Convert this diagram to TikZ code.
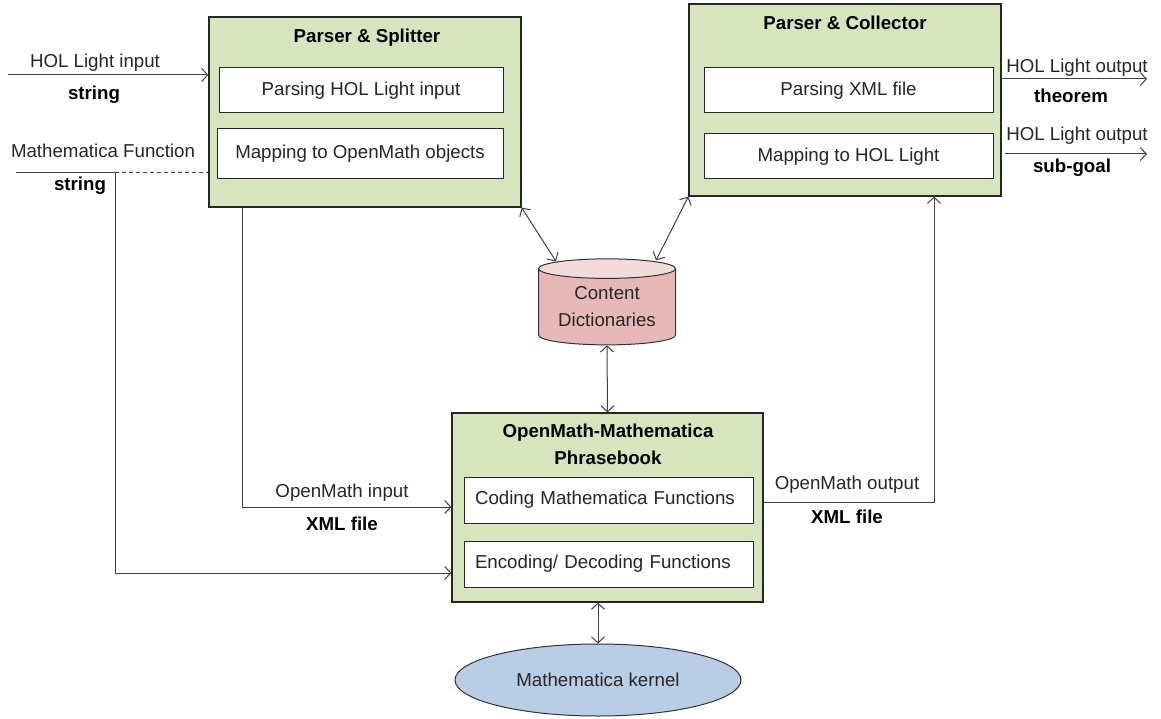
\documentclass[tikz,border=0pt]{standalone}
\usepackage{fontspec}
\setmainfont{Liberation Sans}
\usetikzlibrary{shapes.geometric,arrows.meta,calc}

\definecolor{boxgreen}{HTML}{D7E4BD}
\definecolor{cdbody}{HTML}{E6B9B8}
\definecolor{cdtop}{HTML}{F2DCDB}
\definecolor{kernelblue}{HTML}{B9CDE5}
\definecolor{linegray}{HTML}{404040}

\newcommand{\diafont}{\fontsize{18.7pt}{27pt}\selectfont}

\tikzset{
	outerbox/.style={draw=black!85, line width=1.3pt, fill=boxgreen, minimum width=312pt, minimum height=190pt, inner sep=0pt},
	innerbox/.style={draw=black!85, line width=1pt, fill=white, minimum width=289pt, minimum height=45pt, inner sep=0pt, text=black!85},
	titletext/.style={font=\diafont\bfseries, inner sep=0pt, anchor=base},
	lbl/.style={inner sep=0pt, anchor=base, text=black!85},
	boldlbl/.style={lbl, font=\diafont\bfseries, text=black},
	arr/.style={draw=linegray, line width=1pt, >={Straight Barb[length=6pt,width=13pt]}}
}

\begin{document}
\begin{tikzpicture}[x=1pt,y=-1pt,font=\diafont]
				\useasboundingbox (0,0) rectangle (1161,719);
				
				\node [outerbox] (splitter) at (365,112) {};
				\node [outerbox, minimum height=192pt] (collector) at (845,100) {};
				\node [outerbox, minimum width=311pt, minimum height=189pt] (phrasebook) at (607.5,507.5) {};
				
				\node [titletext] (splittitle) at (367,43) {Parser \& Splitter};
				\node [titletext] (colltitle) at (845,29.5) {Parser \& Collector};
				\node [font=\diafont\bfseries, inner sep=0pt, align=center] (phrasetitle) at (608,444.5) {OpenMath-Mathematica\\Phrasebook};
				
				\node [innerbox, minimum width=284pt] (parsein) at (361,90.5) {Parsing HOL Light input};
				\node [innerbox, minimum width=286pt, minimum height=50pt] (mapom) at (360,154) {Mapping to OpenMath objects};
				\node [innerbox] (parsexml) at (848.5,90.5) {Parsing XML file};
				\node [innerbox] (maphol) at (848.5,156.5) {Mapping to HOL Light};
				\node [innerbox, minimum height=46pt, text width=267pt, inner xsep=11pt, align=left] (coding) at (608.5,500) {Coding Mathematica Functions};
				\node [innerbox, minimum height=46pt, text width=267pt, inner xsep=11pt, align=left] (encoding) at (608.5,564) {Encoding/ Decoding Functions};
				
				\node [cylinder, shape border rotate=90, aspect=0.2, minimum width=137pt, minimum height=86pt, inner sep=0pt,
					draw=black!80, line width=1pt, cylinder uses custom fill, cylinder body fill=cdbody, cylinder end fill=cdtop,
					align=center, text=black!85] (cd) at (607,307) {Content\\Dictionaries};
				\node [ellipse, draw=black!80, line width=1pt, fill=kernelblue, minimum width=286pt, minimum height=72pt, inner sep=0pt, text=black!85] (kernel) at (598,680) {Mathematica kernel};
				
				% % % % % % % % % % % % % % % % % % % % % % % % % %
				
				\coordinate (holin) at (8,75);
				\draw [arr, ->] (holin) -- (holin -| splitter.west);
				\node [lbl] (holinlbl) at (95,68) {HOL Light input};
				\node [boldlbl] (holintype) at (94,100) {string};
				
				\coordinate (mfstart) at (16,173);
				\coordinate (mfbend) at (115,173);
				\draw [arr] (mfstart) -- (mfbend);
				\draw [arr, dash pattern=on 4pt off 3pt] (mfbend) -- (mfbend -| splitter.west);
				\draw [arr, ->] (mfbend) |- ($(phrasebook.west)+(0,65.5)$);
				\node [lbl] (mflbl) at (103,158) {Mathematica Function};
				\node [boldlbl] (mftype) at (80,191) {string};
				
				\coordinate (omin) at (242,507);
				\draw [arr, ->] (omin |- splitter.south) |- (phrasebook.west |- omin);
				\node [lbl] (ominlbl) at (342,497) {OpenMath input};
				\node [boldlbl] (omintype) at (342,530) {XML file};
				
				\coordinate (omout) at (934,502);
				\draw [arr, ->] (phrasebook.east |- omout) -| (omout |- collector.south);
				\node [lbl] (omoutlbl) at (847,489) {OpenMath output};
				\node [boldlbl] (omouttype) at (847,523) {XML file};
				
				\coordinate (thmend) at (1147,79);
				\draw [arr, ->] (collector.east |- thmend) -- (thmend);
				\node [lbl] (thmlbl) at (1077,73) {HOL Light output};
				\node [boldlbl] (thmtype) at (1071,103) {theorem};
				
				\coordinate (subgoalstart) at (1005,154);
				\coordinate (subgoalend) at (1147,154);
				\draw [arr, ->] (subgoalstart) -- (subgoalend);
				\node [lbl] (subgoallbl) at (1077,141) {HOL Light output};
				\node [boldlbl] (subgoaltype) at (1072,173) {sub-goal};
				
				\draw [arr, <->] (splitter.south east) -- ($(cd.north)+(-51,3)$);
				\draw [arr, <->] (collector.south west) -- ($(cd.north)+(49,2)$);
				\draw [arr, <->] (cd.south) -- (phrasebook.north);
				\draw [arr, <->] (kernel.north |- phrasebook.south) -- (kernel.north);
\end{tikzpicture}
\end{document}
